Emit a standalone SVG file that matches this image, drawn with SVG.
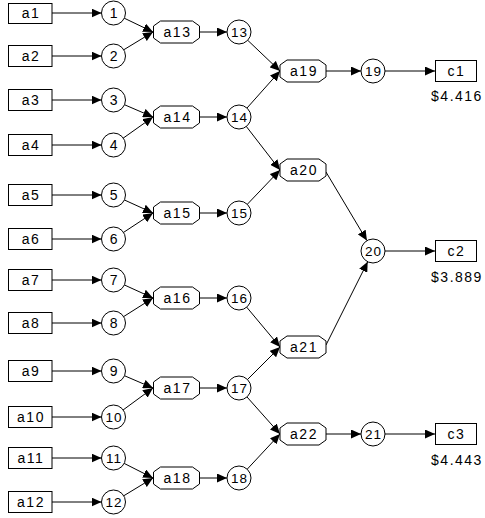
<svg xmlns="http://www.w3.org/2000/svg" width="485" height="518" viewBox="0 0 485 518">
<style>
.b{fill:#fff;stroke:#000;stroke-width:1}
.c{fill:#fff;stroke:#000;stroke-width:1}
.o{fill:#fff;stroke:#000;stroke-width:1}
.e{stroke:#000;stroke-width:1;fill:none;marker-end:url(#ah)}
text{font-family:"Liberation Sans",Arial,sans-serif;font-size:14px;fill:#000;text-anchor:middle;letter-spacing:1.5px}
.n{letter-spacing:1px;font-size:13.5px}
</style>
<defs>
<marker id="ah" markerUnits="userSpaceOnUse" markerWidth="11" markerHeight="9" refX="10" refY="4.5" orient="auto"><path d="M0,0 L10,4.5 L0,9 z" fill="#000"/></marker>
<polygon id="oct" points="-23,-6 -16,-11 16,-11 23,-6 23,6 16,11 -16,11 -23,6"/>
</defs>
<g id="connectors">
<line class="e" x1="52" y1="13" x2="101.5" y2="13"/>
<line class="e" x1="52" y1="56" x2="101.5" y2="56"/>
<line class="e" x1="52" y1="100" x2="101.5" y2="100"/>
<line class="e" x1="52" y1="145" x2="101.5" y2="145"/>
<line class="e" x1="52" y1="195" x2="101.5" y2="195"/>
<line class="e" x1="52" y1="239" x2="101.5" y2="239"/>
<line class="e" x1="52" y1="280" x2="101.5" y2="280"/>
<line class="e" x1="52" y1="323" x2="101.5" y2="323"/>
<line class="e" x1="52" y1="371" x2="101.5" y2="371"/>
<line class="e" x1="52" y1="417" x2="101.5" y2="417"/>
<line class="e" x1="52" y1="458" x2="101.5" y2="458"/>
<line class="e" x1="52" y1="502" x2="101.5" y2="502"/>
<line class="e" x1="113.5" y1="13" x2="153" y2="32"/>
<line class="e" x1="113.5" y1="56" x2="153" y2="32"/>
<line class="e" x1="113.5" y1="100" x2="153" y2="117"/>
<line class="e" x1="113.5" y1="145" x2="153" y2="117"/>
<line class="e" x1="113.5" y1="195" x2="153" y2="213"/>
<line class="e" x1="113.5" y1="239" x2="153" y2="213"/>
<line class="e" x1="113.5" y1="280" x2="153" y2="298"/>
<line class="e" x1="113.5" y1="323" x2="153" y2="298"/>
<line class="e" x1="113.5" y1="371" x2="153" y2="388"/>
<line class="e" x1="113.5" y1="417" x2="153" y2="388"/>
<line class="e" x1="113.5" y1="458" x2="153" y2="478"/>
<line class="e" x1="113.5" y1="502" x2="153" y2="478"/>
<line class="e" x1="200" y1="32" x2="227" y2="32"/>
<line class="e" x1="200" y1="117" x2="227" y2="117"/>
<line class="e" x1="200" y1="213" x2="227" y2="213"/>
<line class="e" x1="200" y1="298" x2="227" y2="298"/>
<line class="e" x1="200" y1="388" x2="227" y2="388"/>
<line class="e" x1="200" y1="478" x2="227" y2="478"/>
<line class="e" x1="239" y1="32" x2="280" y2="71"/>
<line class="e" x1="239" y1="117" x2="280" y2="71"/>
<line class="e" x1="239" y1="117" x2="280" y2="170"/>
<line class="e" x1="239" y1="213" x2="280" y2="170"/>
<line class="e" x1="239" y1="298" x2="280" y2="347"/>
<line class="e" x1="239" y1="388" x2="280" y2="347"/>
<line class="e" x1="239" y1="388" x2="280" y2="434"/>
<line class="e" x1="239" y1="478" x2="280" y2="434"/>
<line class="e" x1="326" y1="71" x2="361" y2="71"/>
<line class="e" x1="326" y1="172" x2="366.9" y2="240.6"/>
<line class="e" x1="326" y1="345" x2="367.7" y2="261.8"/>
<line class="e" x1="326" y1="434" x2="361" y2="434"/>
<line class="e" x1="385" y1="71" x2="435" y2="71"/>
<line class="e" x1="385" y1="251" x2="435" y2="251"/>
<line class="e" x1="385" y1="434" x2="435" y2="434"/>
</g>
<g id="a1"><rect class="b" x="8.5" y="3.5" width="43.5" height="20"/><text x="31" y="18">a1</text></g>
<g id="a2"><rect class="b" x="8.5" y="45.5" width="43.5" height="21"/><text x="31" y="61">a2</text></g>
<g id="a3"><rect class="b" x="8.5" y="89.5" width="43.5" height="21"/><text x="31" y="105">a3</text></g>
<g id="a4"><rect class="b" x="8.5" y="134.5" width="43.5" height="21"/><text x="31" y="150">a4</text></g>
<g id="a5"><rect class="b" x="8.5" y="184.5" width="43.5" height="21"/><text x="31" y="200">a5</text></g>
<g id="a6"><rect class="b" x="8.5" y="228.5" width="43.5" height="21"/><text x="31" y="244">a6</text></g>
<g id="a7"><rect class="b" x="8.5" y="269.5" width="43.5" height="21"/><text x="31" y="285">a7</text></g>
<g id="a8"><rect class="b" x="8.5" y="312.5" width="43.5" height="21"/><text x="31" y="328">a8</text></g>
<g id="a9"><rect class="b" x="8.5" y="360.5" width="43.5" height="21"/><text x="31" y="376">a9</text></g>
<g id="a10"><rect class="b" x="8.5" y="406.5" width="43.5" height="21"/><text x="31" y="422">a10</text></g>
<g id="a11"><rect class="b" x="8.5" y="447.5" width="43.5" height="21"/><text x="31" y="463">a11</text></g>
<g id="a12"><rect class="b" x="8.5" y="491.5" width="43.5" height="21"/><text x="31" y="507">a12</text></g>
<g id="n1"><circle class="c" cx="113.5" cy="13" r="12"/><text x="114.5" y="18">1</text></g>
<g id="n2"><circle class="c" cx="113.5" cy="56" r="12"/><text x="114.5" y="61">2</text></g>
<g id="n3"><circle class="c" cx="113.5" cy="100" r="12"/><text x="114.5" y="105">3</text></g>
<g id="n4"><circle class="c" cx="113.5" cy="145" r="12"/><text x="114.5" y="150">4</text></g>
<g id="n5"><circle class="c" cx="113.5" cy="195" r="12"/><text x="114.5" y="200">5</text></g>
<g id="n6"><circle class="c" cx="113.5" cy="239" r="12"/><text x="114.5" y="244">6</text></g>
<g id="n7"><circle class="c" cx="113.5" cy="280" r="12"/><text x="114.5" y="285">7</text></g>
<g id="n8"><circle class="c" cx="113.5" cy="323" r="12"/><text x="114.5" y="328">8</text></g>
<g id="n9"><circle class="c" cx="113.5" cy="371" r="12"/><text x="114.5" y="376">9</text></g>
<g id="n10"><circle class="c" cx="113.5" cy="417" r="12"/><text class="n" x="114" y="422">10</text></g>
<g id="n11"><circle class="c" cx="113.5" cy="458" r="12"/><text class="n" x="114" y="463">11</text></g>
<g id="n12"><circle class="c" cx="113.5" cy="502" r="12"/><text class="n" x="114" y="507">12</text></g>
<g id="a13"><use href="#oct" class="o" x="176.5" y="32"/><text x="177.5" y="37">a13</text></g>
<g id="a14"><use href="#oct" class="o" x="176.5" y="117"/><text x="177.5" y="122">a14</text></g>
<g id="a15"><use href="#oct" class="o" x="176.5" y="213"/><text x="177.5" y="218">a15</text></g>
<g id="a16"><use href="#oct" class="o" x="176.5" y="298"/><text x="177.5" y="303">a16</text></g>
<g id="a17"><use href="#oct" class="o" x="176.5" y="388"/><text x="177.5" y="393">a17</text></g>
<g id="a18"><use href="#oct" class="o" x="176.5" y="478"/><text x="177.5" y="483">a18</text></g>
<g id="n13"><circle class="c" cx="239" cy="32" r="12"/><text class="n" x="239.5" y="37">13</text></g>
<g id="n14"><circle class="c" cx="239" cy="117" r="12"/><text class="n" x="239.5" y="122">14</text></g>
<g id="n15"><circle class="c" cx="239" cy="213" r="12"/><text class="n" x="239.5" y="218">15</text></g>
<g id="n16"><circle class="c" cx="239" cy="298" r="12"/><text class="n" x="239.5" y="303">16</text></g>
<g id="n17"><circle class="c" cx="239" cy="388" r="12"/><text class="n" x="239.5" y="393">17</text></g>
<g id="n18"><circle class="c" cx="239" cy="478" r="12"/><text class="n" x="239.5" y="483">18</text></g>
<g id="a19"><use href="#oct" class="o" x="303" y="71"/><text x="304" y="76">a19</text></g>
<g id="a20"><use href="#oct" class="o" x="303" y="170"/><text x="304" y="175">a20</text></g>
<g id="a21"><use href="#oct" class="o" x="303" y="347"/><text x="304" y="352">a21</text></g>
<g id="a22"><use href="#oct" class="o" x="303" y="434"/><text x="304" y="439">a22</text></g>
<g id="n19"><circle class="c" cx="373" cy="71" r="12"/><text class="n" x="373.5" y="76">19</text></g>
<g id="n20"><circle class="c" cx="373" cy="251" r="12"/><text class="n" x="373.5" y="256">20</text></g>
<g id="n21"><circle class="c" cx="373" cy="434" r="12"/><text class="n" x="373.5" y="439">21</text></g>
<g id="c1"><rect class="b" x="435.5" y="60.5" width="41" height="21"/><text x="456.5" y="76">c1</text><text x="457" y="101">$4.416</text></g>
<g id="c2"><rect class="b" x="435.5" y="240.5" width="41" height="21"/><text x="456.5" y="256">c2</text><text x="457" y="282">$3.889</text></g>
<g id="c3"><rect class="b" x="435.5" y="423.5" width="41" height="21"/><text x="456.5" y="439">c3</text><text x="457" y="465">$4.443</text></g>
</svg>
